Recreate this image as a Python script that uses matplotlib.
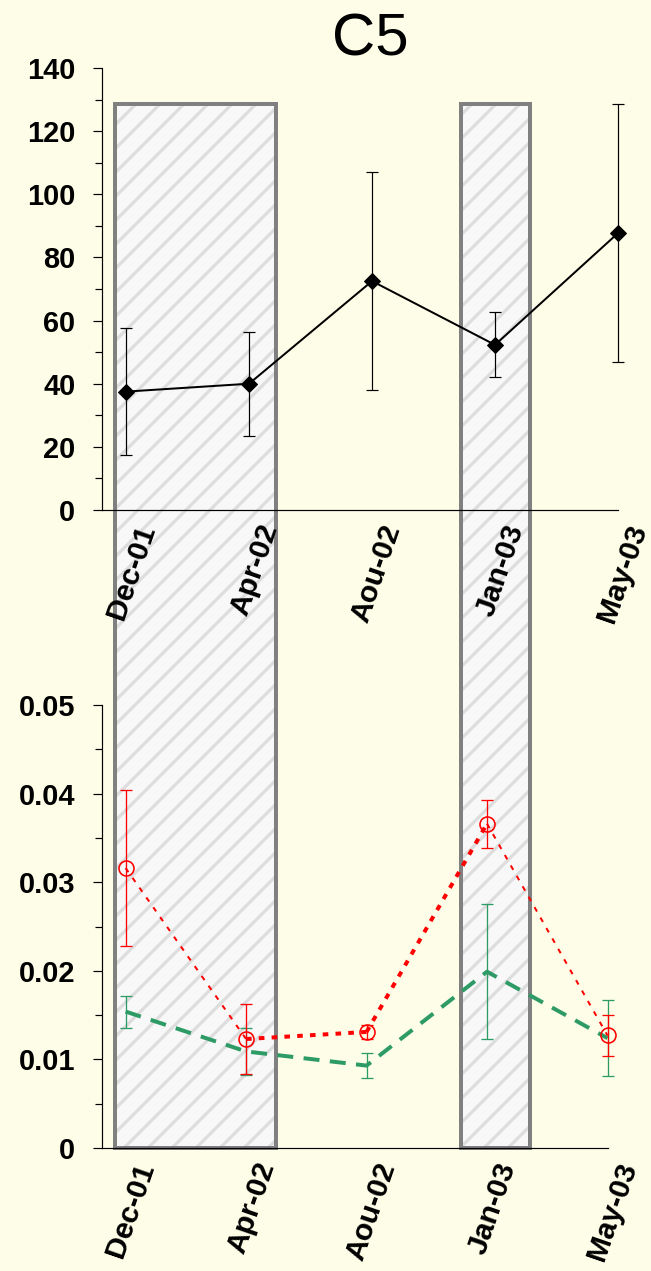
import numpy as np
import matplotlib.pyplot as plt
import matplotlib.transforms as mtransforms
from matplotlib.patches import Rectangle

plt.rcParams['font.family'] = ['Liberation Sans', 'DejaVu Sans']
plt.rcParams['hatch.linewidth'] = 3.2

# sampling dates
dates = ['Dec-01', 'Apr-02', 'Aou-02', 'Jan-03', 'May-03']

# upper panel: mean and error
c5_mean = [37.5, 40.0, 72.5, 52.3, 87.7]
c5_err = [20.0, 16.5, 34.5, 10.3, 40.8]

# lower panel: red series (open circles) and green series
red_mean = [0.0316, 0.0123, 0.0131, 0.0366, 0.0127]
red_err = [0.0088, 0.0039, 0.0008, 0.0027, 0.0023]
green_mean = [0.0154, 0.0109, 0.0093, 0.0199, 0.0124]
green_err = [0.0018, 0.0027, 0.0014, 0.0076, 0.0043]

BG = '#FEFEE8'
RED = '#FF0000'
GREEN = '#2E9B66'
W, H = 651, 1271
LABEL_FONT = ['Liberation Sans Narrow', 'Liberation Sans', 'DejaVu Sans']

fig = plt.figure(figsize=(W / 72, H / 72), dpi=72)
fig.patch.set_facecolor(BG)

ax1 = fig.add_axes([101.5 / W, (H - 510) / H, 516.5 / W, 442 / H])
ax2 = fig.add_axes([101.5 / W, (H - 1148) / H, 506 / W, 443 / H])

x = np.arange(len(dates))

# shaded periods, shared by both panels
for left, right in [(114.5, 275.5), (460.5, 530.0)]:
    r = Rectangle((left / W, (H - 1148) / H), (right - left) / W, (1148 - 103.5) / H,
                  transform=fig.transFigure, facecolor='#F8F8F8', edgecolor='#DDDDDD',
                  hatch='/', linewidth=0, zorder=-2)
    fig.add_artist(r)
    b = Rectangle((left / W, (H - 1148) / H), (right - left) / W, (1148 - 103.5) / H,
                  transform=fig.transFigure, facecolor='none', edgecolor='#808080',
                  linewidth=4, zorder=-1)
    fig.add_artist(b)

for ax in (ax1, ax2):
    ax.set_facecolor('none')
    ax.set_xlim(-0.2, 4)
    for s in ('top', 'right'):
        ax.spines[s].set_visible(False)
    ax.spines['left'].set_linewidth(1.2)
    ax.spines['bottom'].set_linewidth(1.2)
    ax.tick_params(axis='y', which='major', direction='out', length=9, width=1.2,
                   pad=17)
    ax.tick_params(axis='y', which='minor', direction='out', length=7, width=1.2)
    ax.tick_params(axis='x', length=0, pad=8)
    ax.set_xticks(x)
    ax.set_xticklabels(dates, rotation=71, ha='right', va='center',
                       rotation_mode='anchor', fontweight='bold',
                       family=LABEL_FONT, fontsize=30)
    offset = mtransforms.ScaledTranslation(21 / 72, -7 / 72, fig.dpi_scale_trans)
    for lab in ax.get_xticklabels():
        lab.set_transform(lab.get_transform() + offset)

# upper panel
ax1.errorbar(x, c5_mean, yerr=c5_err, color='black', lw=2, marker='D', ms=11,
             ecolor='black', elinewidth=1.2, capsize=6, capthick=1.2, zorder=3,
             clip_on=False)
ax1.set_ylim(0, 140)
ax1.set_yticks(np.arange(0, 141, 20))
ax1.set_yticks(np.arange(0, 141, 10), minor=True)
ax1.set_yticklabels([str(v) for v in range(0, 141, 20)], fontweight='bold',
                    family=LABEL_FONT, fontsize=29)
ax1.set_title('C5', fontsize=60, pad=12, x=0.52)

# lower panel
ax2.errorbar(x, green_mean, yerr=green_err, fmt='none', ecolor=GREEN,
             elinewidth=1.3, capsize=6, capthick=1.3, zorder=3, clip_on=False)
ax2.plot(x, green_mean, color=GREEN, lw=4, dashes=(4, 2.6), zorder=3, clip_on=False)
ax2.errorbar(x, red_mean, yerr=red_err, fmt='none', ecolor=RED,
             elinewidth=1.3, capsize=6, capthick=1.3, zorder=4, clip_on=False)
red_widths = [2.0, 4.0, 4.0, 2.0]
for i, lw in enumerate(red_widths):
    ax2.plot(x[i:i + 2], red_mean[i:i + 2], color=RED, lw=lw,
             dashes=(1.4, 1.8) if lw > 3 else (2.5, 3.5), zorder=4, clip_on=False)
ax2.plot(x, red_mean, ls='none', marker='o', ms=15, mfc='none', mec=RED,
         mew=1.6, zorder=5, clip_on=False)
ax2.set_ylim(0, 0.05)
ax2.set_yticks(np.arange(0, 0.051, 0.01))
ax2.set_yticks(np.arange(0, 0.051, 0.005), minor=True)
ax2.set_yticklabels(['0', '0.01', '0.02', '0.03', '0.04', '0.05'], fontweight='bold',
                    family=LABEL_FONT, fontsize=29)

fig.savefig('out.png', dpi=72, facecolor=BG)
